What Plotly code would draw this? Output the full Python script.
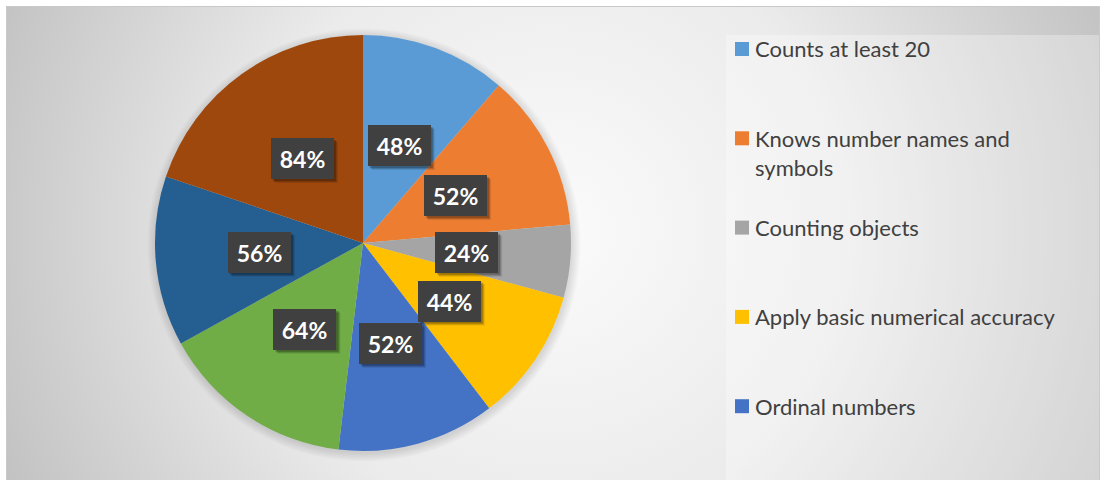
import math
import base64
import plotly.graph_objects as go

# ---------------- data ----------------
categories = [
    "Counts at least 20",
    "Knows number names and symbols",
    "Counting objects",
    "Apply basic numerical accuracy",
    "Ordinal numbers",
    "Item 6",
    "Item 7",
    "Item 8",
]
values = [48, 52, 24, 44, 52, 64, 56, 84]
label_texts = [f"{v}%" for v in values]
colors = ["#5B9BD5", "#ED7D31", "#A5A5A5", "#FFC000",
          "#4472C4", "#70AD47", "#255E91", "#9E480E"]
legend_count = 5  # only the first five entries are visible in the legend
legend_wrap = {"Knows number names and symbols": ["Knows number names and", "symbols"]}

# ---------------- geometry helpers ----------------
W, H = 1101, 480


def px(x):
    return x / W


def py(y):
    return 1 - y / H


FRAME = (6, 6, 1099, 482)
PIE_CX, PIE_CY, PIE_R = 363, 243, 208
dom_x = [px(PIE_CX - PIE_R), px(PIE_CX + PIE_R)]
dom_y = [py(PIE_CY + PIE_R), py(PIE_CY - PIE_R)]
BOX_W, BOX_H = 63, 41

# ---------------- background gradient (svg data uri) ----------------
fw, fh = FRAME[2] - FRAME[0], FRAME[3] - FRAME[1]
svg = f'''<svg xmlns="http://www.w3.org/2000/svg" width="{fw}" height="{fh}" viewBox="0 0 {fw} {fh}">
<defs><radialGradient id="g" gradientUnits="userSpaceOnUse" cx="{552-FRAME[0]}" cy="{230-FRAME[1]}" r="600">
<stop offset="0" stop-color="#fbfbfb"/><stop offset="0.5" stop-color="#ebebeb"/><stop offset="1" stop-color="#c2c2c2"/>
</radialGradient></defs><rect x="0" y="0" width="{fw}" height="{fh}" fill="url(#g)"/></svg>'''
svg_uri = "data:image/svg+xml;base64," + base64.b64encode(svg.encode()).decode()

fig = go.Figure()

fig.add_trace(go.Pie(
    labels=categories,
    values=values,
    sort=False,
    direction="clockwise",
    rotation=0,
    marker=dict(colors=colors, line=dict(width=0)),
    textinfo="none",
    hovertext=label_texts,
    hoverinfo="label+text",
    domain=dict(x=dom_x, y=dom_y),
    showlegend=False,
))

shapes = []
# chart frame
shapes.append(dict(type="rect", xref="paper", yref="paper", layer="below",
                   x0=px(FRAME[0] + 0.5), x1=px(FRAME[2] + 0.5),
                   y0=py(FRAME[3]), y1=py(FRAME[1] + 0.5),
                   line=dict(color="#c9c9c9", width=1), fillcolor="rgba(0,0,0,0)"))
# legend panel overlay
shapes.append(dict(type="rect", xref="paper", yref="paper", layer="below",
                   x0=px(726), x1=px(FRAME[2]), y0=py(FRAME[3]), y1=py(35),
                   line=dict(width=0), fillcolor="rgba(255,255,255,0.3)"))
# soft shadow around the pie
for k in range(6):
    rr = PIE_R + 1 + k * 1.5
    shapes.append(dict(type="circle", xref="paper", yref="paper", layer="below",
                       x0=px(PIE_CX + 1 - rr), x1=px(PIE_CX + 1 + rr),
                       y0=py(PIE_CY + 2 + rr), y1=py(PIE_CY + 2 - rr),
                       line=dict(width=0), fillcolor="rgba(0,0,0,0.02)"))

annotations = []
# data labels at half radius, mid-angle of each slice
total = sum(values)
cum = 0
for v, t in zip(values, label_texts):
    mid = (cum + v / 2) / total * 2 * math.pi
    cum += v
    lx = PIE_CX + 0.5 * PIE_R * math.sin(mid)
    ly = PIE_CY - 0.5 * PIE_R * math.cos(mid)
    # box shadow (drawn as shapes above the pie, below the label)
    for d, a in [(4, 0.10), (3, 0.15), (2, 0.2)]:
        shapes.append(dict(type="rect", xref="paper", yref="paper", layer="above",
                           x0=px(lx - BOX_W / 2 + d), x1=px(lx + BOX_W / 2 + d),
                           y0=py(ly + BOX_H / 2 + d), y1=py(ly - BOX_H / 2 + d),
                           line=dict(width=0), fillcolor=f"rgba(0,0,0,{a})"))
    annotations.append(dict(
        x=px(lx), y=py(ly), xref="paper", yref="paper", showarrow=False,
        xanchor="center", yanchor="middle",
        text=t,
        font=dict(family="Lato", size=23, color="#ffffff", weight="bold"),
        bgcolor="#404040", borderpad=6, borderwidth=0,
        width=BOX_W - 12, height=BOX_H - 12))

# legend (manual, first entries only)
LEG_Y0, LEG_DY, LINE_H = 49, 89.3, 29
for i in range(legend_count):
    yc = LEG_Y0 + i * LEG_DY
    shapes.append(dict(type="rect", xref="paper", yref="paper",
                       x0=px(735), x1=px(749), y0=py(yc + 7), y1=py(yc - 7),
                       line=dict(width=0), fillcolor=colors[i]))
    lines = legend_wrap.get(categories[i], [categories[i]])
    for j, ln in enumerate(lines):
        annotations.append(dict(
            x=px(753), y=py(yc + j * LINE_H), xref="paper", yref="paper",
            xanchor="left", yanchor="middle", showarrow=False, text=ln,
            font=dict(family="Lato", size=22, color="#404040")))

fig.update_layout(
    width=W, height=H,
    margin=dict(l=0, r=0, t=0, b=0),
    paper_bgcolor="#ffffff",
    plot_bgcolor="#ffffff",
    shapes=shapes,
    annotations=annotations,
    images=[dict(source=svg_uri, xref="paper", yref="paper",
                 x=px(FRAME[0]), y=py(FRAME[1]), sizex=fw / W, sizey=fh / H,
                 xanchor="left", yanchor="top", sizing="stretch", layer="below")],
    showlegend=False,
)

fig.write_html("out.html", config={"displayModeBar": False},
               post_script="document.body.style.margin='0';")
